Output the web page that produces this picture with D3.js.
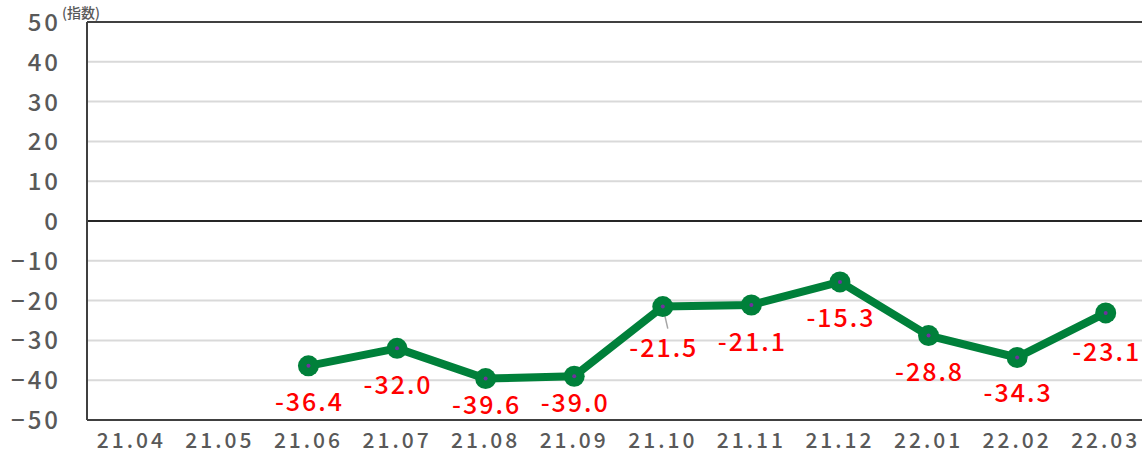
<!DOCTYPE html>
<html>
<head>
<meta charset="utf-8">
<script src="https://cdn.jsdelivr.net/npm/d3@7"></script>
<style>
html,body{margin:0;padding:0;background:#fff;overflow:hidden;}
svg{display:block;}
</style>
</head>
<body>
<svg id="chart" width="1142" height="454"></svg>
<script>
const categories = ["21.04","21.05","21.06","21.07","21.08","21.09","21.10","21.11","21.12","22.01","22.02","22.03"];
const values = [null,null,-36.4,-32.0,-39.6,-39.0,-21.5,-21.1,-15.3,-28.8,-34.3,-23.1];
const yTicks = [50,40,30,20,10,0,-10,-20,-30,-40,-50];
const labelDy = [0,0,36,37,27,27,42,37,36,37,36,39];

(function(){
const svg = d3.select("#chart");
const mLeft = 87, mTop = 22, mBottom = 420, mRight = 1150;
const x = d3.scaleBand().domain(categories).range([mLeft, mRight]);
const y = d3.scaleLinear().domain([-50, 50]).range([mBottom, mTop]);
const font = "'Noto Sans CJK JP','Noto Sans',sans-serif";

// gridlines
svg.append("g").selectAll("line").data(yTicks.filter(t => t !== 0 && t !== 50 && t !== -50)).join("line")
  .attr("x1", mLeft).attr("x2", mRight).attr("y1", d => y(d)).attr("y2", d => y(d))
  .attr("stroke", "#d9d9d9").attr("stroke-width", 2);

// frame lines
svg.append("line").attr("x1", mLeft).attr("x2", mRight).attr("y1", y(50)).attr("y2", y(50)).attr("stroke", "#404040").attr("stroke-width", 2);
svg.append("line").attr("x1", mLeft).attr("x2", mRight).attr("y1", y(-50)).attr("y2", y(-50)).attr("stroke", "#404040").attr("stroke-width", 2);
svg.append("line").attr("x1", mLeft).attr("x2", mRight).attr("y1", y(0)).attr("y2", y(0)).attr("stroke", "#262626").attr("stroke-width", 2);
svg.append("line").attr("x1", mLeft).attr("x2", mLeft).attr("y1", y(50)).attr("y2", y(-50)).attr("stroke", "#404040").attr("stroke-width", 2);

// y axis labels
const yAxis = d3.axisLeft(y).tickValues(yTicks).tickSize(0).tickPadding(26).tickFormat(d3.format("d"));
const gy = svg.append("g").attr("transform", `translate(${mLeft},0)`).call(yAxis);
gy.select(".domain").remove();
gy.selectAll("text").attr("font-family", font).attr("font-size", 24).attr("font-weight", 500)
  .attr("fill", "#595959").attr("dy", "0.35em").attr("letter-spacing", "3px");

// x axis labels
const xAxis = d3.axisBottom(x).tickSize(0).tickPadding(13);
const gx = svg.append("g").attr("transform", `translate(0,${mBottom})`).call(xAxis);
gx.select(".domain").remove();
gx.selectAll("text").attr("font-family", font).attr("font-size", 21).attr("font-weight", 500)
  .attr("fill", "#595959").attr("letter-spacing", "3px");

// unit label
svg.append("text").attr("x", 62).attr("y", 18).attr("font-family", font).attr("font-size", 14)
  .attr("font-weight", 500).attr("fill", "#595959").text("(指数)");

const pts = categories.map((c, i) => ({c, v: values[i], dy: labelDy[i]})).filter(d => d.v !== null);
const cx = d => x(d.c) + x.bandwidth() / 2;

// leader line for 21.10
svg.append("line").attr("x1", cx(pts[4])).attr("y1", y(pts[4].v)).attr("x2", cx(pts[4]) + 5).attr("y2", y(pts[4].v) + 22)
  .attr("stroke", "#a6a6a6").attr("stroke-width", 1.5);

svg.append("path").datum(pts)
  .attr("d", d3.line().x(cx).y(d => y(d.v)))
  .attr("fill", "none").attr("stroke", "#00803a").attr("stroke-width", 8).attr("stroke-linejoin", "round");

svg.append("g").selectAll("circle").data(pts).join("circle")
  .attr("cx", cx).attr("cy", d => y(d.v)).attr("r", 10.5).attr("fill", "#00803a");
svg.append("g").selectAll("circle").data(pts).join("circle")
  .attr("cx", cx).attr("cy", d => y(d.v)).attr("r", 2).attr("fill", "#7030a0");

svg.append("g").selectAll("text").data(pts).join("text")
  .attr("x", d => cx(d) + 1).attr("y", d => y(d.v) + d.dy).attr("dy", "0.35em")
  .attr("text-anchor", "middle").attr("font-family", font).attr("font-size", 25).attr("font-weight", 500)
  .attr("fill", "#ff0000").attr("letter-spacing", "2px")
  .text(d => d.v.toFixed(1));
})();
</script>
</body>
</html>
